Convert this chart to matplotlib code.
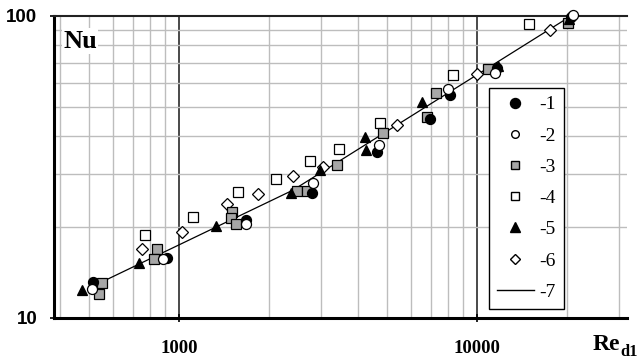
import matplotlib
matplotlib.use("Agg")
import matplotlib.pyplot as plt
from matplotlib.lines import Line2D
from matplotlib.ticker import NullFormatter, FixedLocator

# Heat transfer data: Nusselt number vs Reynolds number, six data sets + correlation
re1 = [514, 911, 1678, 2794, 4617, 6956, 8118, 11670, 20700]
nu1 = [13.2, 15.8, 21.1, 25.9, 35.5, 45.6, 54.8, 67.3, 99.0]

re2 = [510, 884, 1678, 2816, 4690, 7992, 11494, 21000]
nu2 = [12.5, 15.7, 20.5, 28.0, 37.3, 57.3, 64.8, 101.0]

re3 = [551, 539, 844, 824, 1506, 1494, 1554, 2489, 2689, 3390, 4837, 6796, 7286, 10886, 20200]
nu3 = [13.1, 12.0, 16.9, 15.7, 22.4, 21.4, 20.5, 26.3, 26.3, 32.1, 41.0, 46.3, 55.6, 66.8, 94.8]

re4 = [769, 1114, 1578, 2116, 2752, 3443, 4726, 8308, 14946]
nu4 = [18.8, 21.6, 26.1, 28.9, 33.1, 36.3, 44.2, 63.8, 94.1]

re5 = [473, 734, 1331, 2376, 2973, 4210, 4242, 6538, 11763, 20300]
nu5 = [12.4, 15.2, 20.2, 25.9, 30.9, 39.7, 36.0, 51.9, 68.2, 98.0]

re6 = [751, 1023, 1449, 1841, 2413, 3042, 5389, 10000, 17580]
nu6 = [16.9, 19.3, 23.9, 25.7, 29.5, 31.6, 43.6, 64.3, 89.9]

re7 = [551, 2413, 20840]
nu7 = [13.16, 26.5, 100.5]

series_labels = ["-1", "-2", "-3", "-4", "-5", "-6", "-7"]
x_ticks = [1000, 10000]
x_tick_labels = ["1000", "10000"]
y_ticks = [10, 100]
y_tick_labels = ["10", "100"]

fig = plt.figure(figsize=(6.4, 3.6), dpi=100)
ax = fig.add_axes([54 / 640, 42 / 360, 573 / 640, 302 / 360])
ax.set_xscale("log")
ax.set_yscale("log")
ax.set_xlim(381, 31900)
ax.set_ylim(10, 100)

# grid
ax.xaxis.set_minor_locator(FixedLocator([m * 10 ** e for e in (2, 3, 4) for m in range(2, 10)]))
ax.yaxis.set_minor_locator(FixedLocator([m * 10 for m in range(2, 10)]))
ax.xaxis.set_minor_formatter(NullFormatter())
ax.yaxis.set_minor_formatter(NullFormatter())
ax.grid(which="minor", color="#bdbdbd", linewidth=1.0)
ax.grid(which="major", axis="x", color="#4a4a4a", linewidth=1.4)
ax.set_axisbelow(True)

ax.set_xticks(x_ticks)
ax.set_xticklabels(x_tick_labels, fontfamily="Liberation Serif", fontweight="bold", fontsize=13.5)
ax.set_yticks(y_ticks)
ax.set_yticklabels(y_tick_labels, fontfamily="Liberation Sans", fontweight="bold", fontsize=13.5)
ax.tick_params(axis="x", which="major", direction="inout", length=6, width=1.2, pad=13)
ax.tick_params(axis="y", which="major", direction="out", length=3, width=1.2, pad=9)
ax.tick_params(which="minor", length=0)

for side in ("left", "bottom"):
    ax.spines[side].set_linewidth(2.2)
    ax.spines[side].set_color("black")
ax.spines["top"].set_linewidth(1.5)
ax.spines["top"].set_color("#222222")
ax.spines["right"].set_visible(False)

# correlation line
ax.plot(re7, nu7, color="black", linewidth=0.9, zorder=2)

ms = 7.2
common = dict(linestyle="none", markeredgecolor="black", markeredgewidth=0.9, clip_on=False, zorder=3)
ax.plot(re6, nu6, marker="D", markersize=6.0, markerfacecolor="white", **common)
ax.plot(re4, nu4, marker="s", markersize=ms, markerfacecolor="white", **common)
ax.plot(re3, nu3, marker="s", markersize=ms, markerfacecolor="#a6a6a6", **common)
ax.plot(re5, nu5, marker="^", markersize=ms + 0.6, markerfacecolor="black", **common)
ax.plot(re1, nu1, marker="o", markersize=ms, markerfacecolor="black", **common)
ax.plot(re2, nu2, marker="o", markersize=ms, markerfacecolor="white", **common)

# axis titles
ax.text(0.016, 0.955, "Nu", transform=ax.transAxes, fontfamily="Liberation Serif",
        fontweight="bold", fontsize=19, ha="left", va="top",
        bbox=dict(facecolor="white", edgecolor="none", pad=1.0), zorder=4)
fig.text(593 / 640, 10 / 360, "Re", fontfamily="Liberation Serif", fontweight="bold",
         fontsize=17, ha="left", va="baseline")
fig.text(620 / 640, 4 / 360, "d1", fontfamily="Liberation Serif", fontweight="bold",
         fontsize=12, ha="left", va="baseline")

# legend
handles = [
    Line2D([], [], linestyle="none", marker="o", markersize=ms, markerfacecolor="black", markeredgecolor="black"),
    Line2D([], [], linestyle="none", marker="o", markersize=5.5, markerfacecolor="white", markeredgecolor="black"),
    Line2D([], [], linestyle="none", marker="s", markersize=6, markerfacecolor="#a6a6a6", markeredgecolor="black"),
    Line2D([], [], linestyle="none", marker="s", markersize=6, markerfacecolor="white", markeredgecolor="black"),
    Line2D([], [], linestyle="none", marker="^", markersize=7, markerfacecolor="black", markeredgecolor="black"),
    Line2D([], [], linestyle="none", marker="D", markersize=5, markerfacecolor="white", markeredgecolor="black"),
    Line2D([], [], color="black", linewidth=1.0),
]
leg = ax.legend(handles, series_labels, loc="upper left",
                bbox_to_anchor=((489 - 54) / 573, (318 - 88) / 302),
                prop={"family": "Liberation Serif", "size": 14},
                frameon=True, fancybox=False, framealpha=1, edgecolor="black",
                handlelength=1.9, handletextpad=0.3, labelspacing=0.7,
                borderpad=0.4, borderaxespad=0)
leg.get_frame().set_linewidth(1.0)
leg.set_zorder(5)

fig.savefig("out.png", dpi=100)
